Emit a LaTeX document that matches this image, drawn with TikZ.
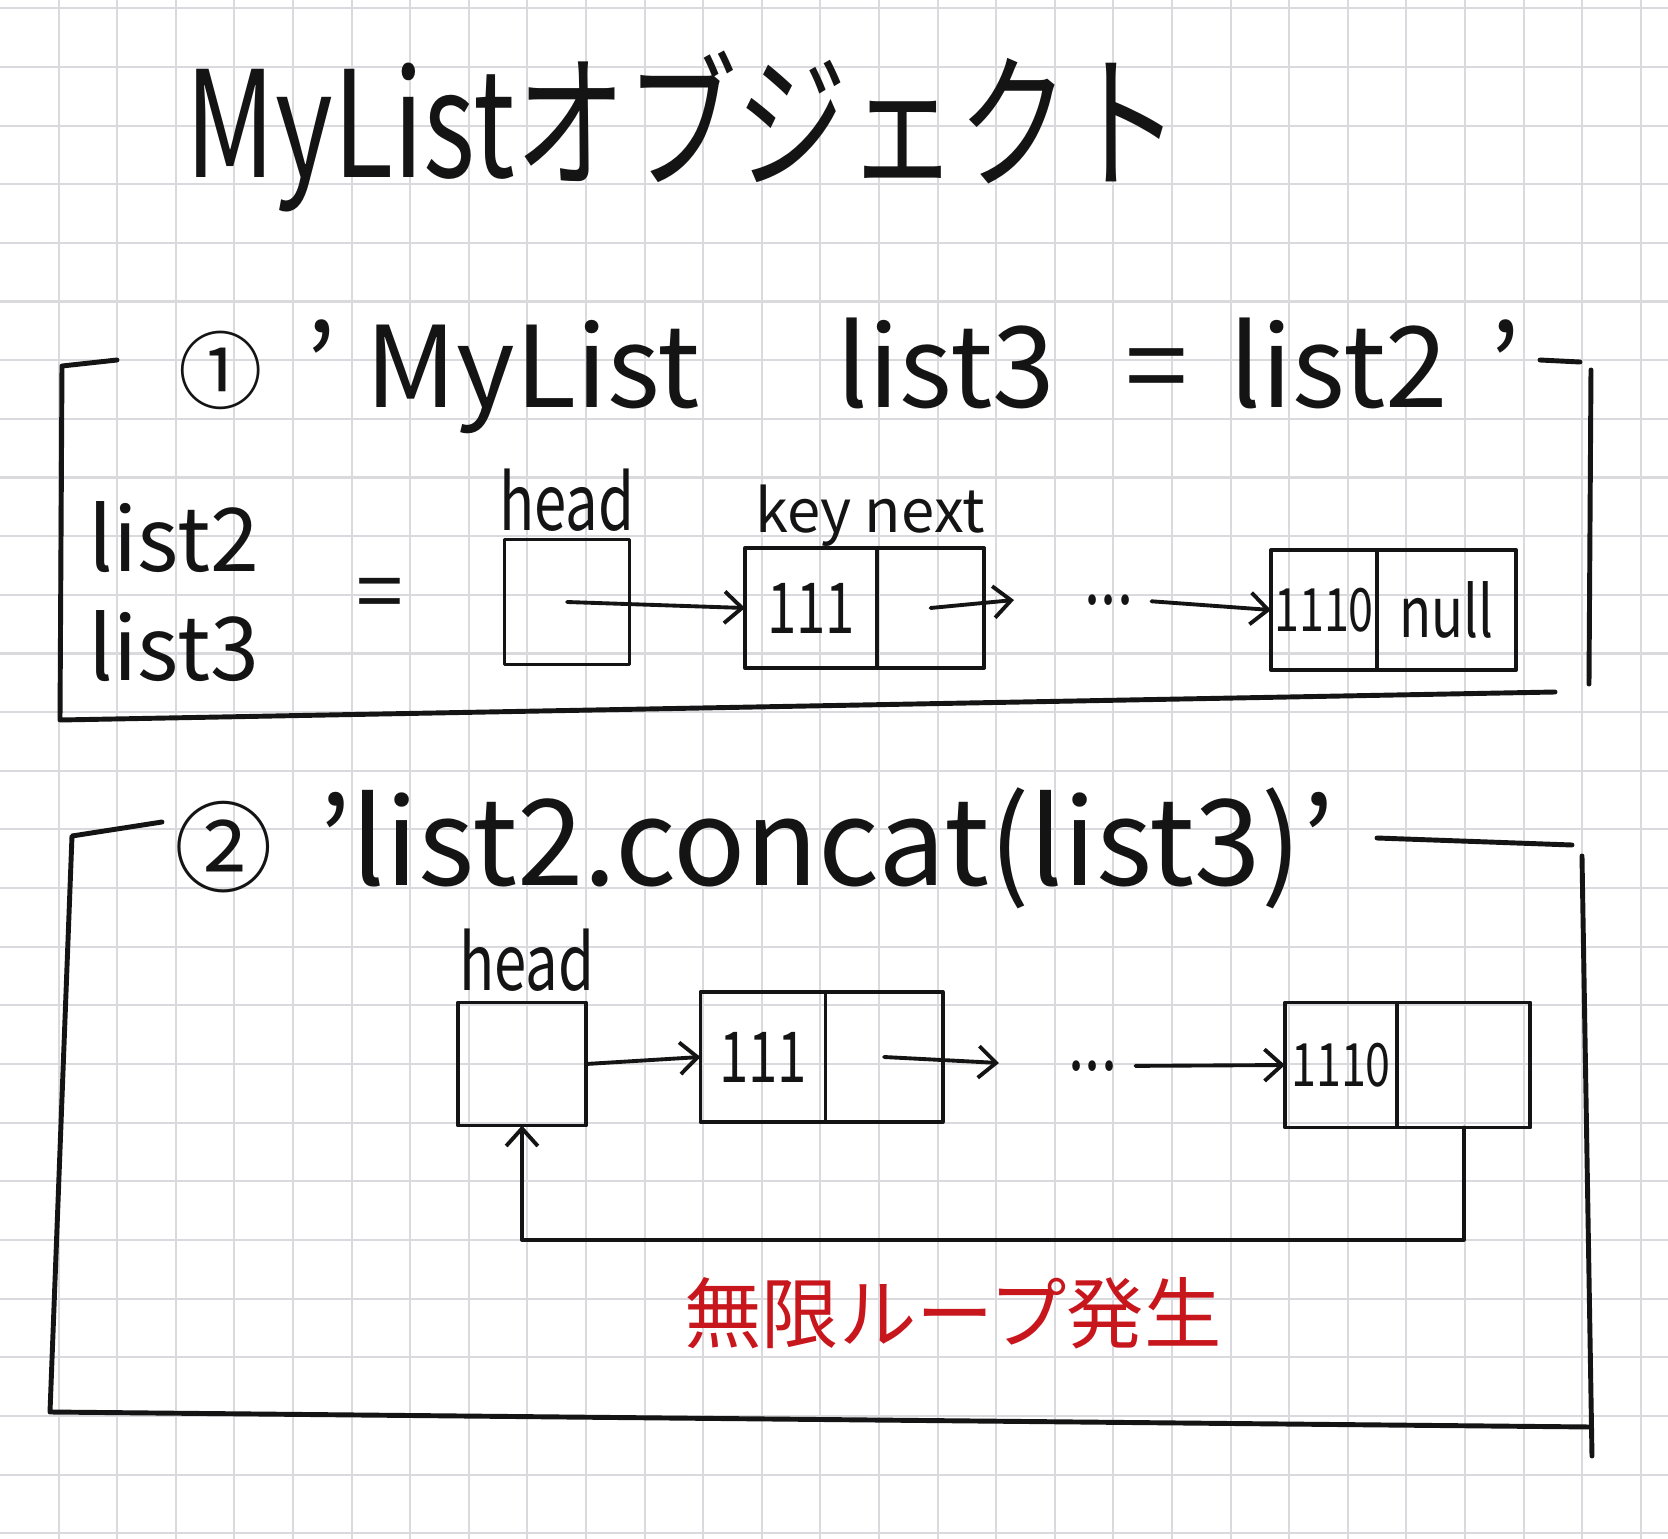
\documentclass[tikz,border=0pt]{standalone}
\usepackage{fontspec}
\setmainfont{Noto Sans CJK JP}
\newfontfamily\handfont[FakeStretch=0.75]{Noto Sans CJK JP}
\usetikzlibrary{arrows.meta, positioning}
\definecolor{Ink}   {HTML}{141414}
\definecolor{GridG} {HTML}{D9D9DE}
\definecolor{RedInk}{HTML}{C8161D}
\tikzset{
  gridln/.style={draw=GridG, line width=0.6pt},
  ink/.style={draw=Ink, line width=1.1pt, line cap=round, line join=round},
  frm/.style={ink, line width=1.4pt},
  cell/.style={
    rectangle, ink, text=Ink,
    minimum width=#1, minimum height=1.2cm,
    inner sep=0pt, outer sep=0pt,
    font=\handfont\fontsize{20}{20}\selectfont,
  },
  hbox/.style={
    rectangle, ink,
    minimum width=1.25cm, minimum height=1.25cm,
    inner sep=0pt, outer sep=0pt,
  },
  arr/.style={ink, -{Straight Barb[length=5pt,width=9pt]}},
  lbl/.style={font=\handfont\fontsize{22}{22}\selectfont, text=Ink, inner sep=0pt},
  hd/.style={font=\fontsize{32}{36}\selectfont, text=Ink, inner sep=0pt},
  num/.style={font=\fontsize{#1}{#1}\selectfont, text=Ink, inner sep=0pt},
}

\begin{document}
\begin{tikzpicture}[x=0.01cm, y=-0.01cm]
  \useasboundingbox (0,0) rectangle (1668,1539);
  \fill[white] (0,0) rectangle (1668,1539);
  % grid paper
  \foreach \i in {1,...,28}
    \draw[gridln] (58.6*\i,0) -- (58.6*\i,1539);
  \foreach \j in {0,...,26}
    \draw[gridln] (0,8.3+58.65*\j) -- (1668,8.3+58.65*\j);

  % title
  \node[hd, font=\handfont\fontsize{42}{46}\selectfont, anchor=base west]
    (title) at (185,177) {MyListオブジェクト};

  % (1) MyList list3 = list2
  \node[num=24] (num1) at (221,370) {①};
  \node[hd, anchor=base west] (head1txt) at (305,407)
    {'\hspace{8pt}MyList\hspace{39pt}list3\hspace{20pt}=\hspace{12pt}list2\hspace{12pt}'};
  \draw[frm] (117,360) -- (62,366) -- (60,720) -- (1555,692);
  \draw[frm] (1540,360) -- (1580,362);
  \draw[frm] (1591,370) -- (1589,684);

  \node[hd, font=\fontsize{25}{31}\selectfont, align=left, anchor=west]
    (lsts) at (88,592) {list2\\list3};
  \node[hd, font=\fontsize{24}{24}\selectfont] (eq1) at (380,600) {=};

  \node[hbox] (hb1) at (567,602) {};
  \node[lbl, anchor=base] (hl1) at (567,530) {head};
  \node[cell=1.32cm] (n1k) at (811,608) {111};
  \node[cell=1.07cm, right=0pt of n1k] (n1n) {};
  \node[lbl, font=\fontsize{17}{17}\selectfont, anchor=base] (kn1) at (870,532) {key next};
  \node[lbl] (dots1) at (1109,600) {...};
  \node[cell=1.06cm, font=\handfont\fontsize{17}{17}\selectfont] (n3k) at (1324,610) {1110};
  \node[cell=1.39cm, right=0pt of n3k] (n3n) {null};
  \coordinate (e1) at (1014,600);
  \draw[arr] (hb1.center) -- (n1k.west);
  \draw[arr] (n1n.center) -- (e1);
  \draw[arr, shorten <=5pt] (dots1.east) -- (n3k.west);

  % (2) list2.concat(list3)
  \node[num=28] (num2) at (224,847) {②};
  \node[hd, font=\fontsize{34}{38}\selectfont, anchor=base west] (head2txt) at (318,885)
    {'list2.concat(list3)'};
  \draw[frm] (162,822) -- (72,836) -- (50,1412) -- (1591,1427);
  \draw[frm] (1377,838) -- (1572,845);
  \draw[frm] (1582,856) -- (1592,1456);

  \node[hbox, minimum width=1.28cm, minimum height=1.23cm] (hb2) at (522,1064) {};
  \node[lbl, anchor=base] (hl2) at (527,990) {head};
  \node[cell=1.25cm, minimum height=1.3cm] (n4k) at (763,1057) {111};
  \node[cell=1.17cm, minimum height=1.3cm, right=0pt of n4k] (n4n) {};
  \node[lbl] (dots2) at (1093,1066) {...};
  \node[cell=1.12cm, minimum height=1.25cm, font=\handfont\fontsize{17}{17}\selectfont]
    (n6k) at (1341,1065) {1110};
  \node[cell=1.33cm, minimum height=1.25cm, right=0pt of n6k] (n6n) {};
  \coordinate (e2) at (999,1063);
  \coordinate (lp) at (522,1240);
  \draw[arr] (hb2.east) -- (n4k.west);
  \draw[arr] (n4n.center) -- (e2);
  \draw[arr, shorten <=5pt] (dots2.east) -- (n6k.west);
  \draw[arr] (n6n.south) |- (lp) -- (hb2.south);

  \node[font=\fontsize{22}{22}\selectfont, text=RedInk] (loopmsg) at (953,1313) {無限ループ発生};
\end{tikzpicture}
\end{document}
